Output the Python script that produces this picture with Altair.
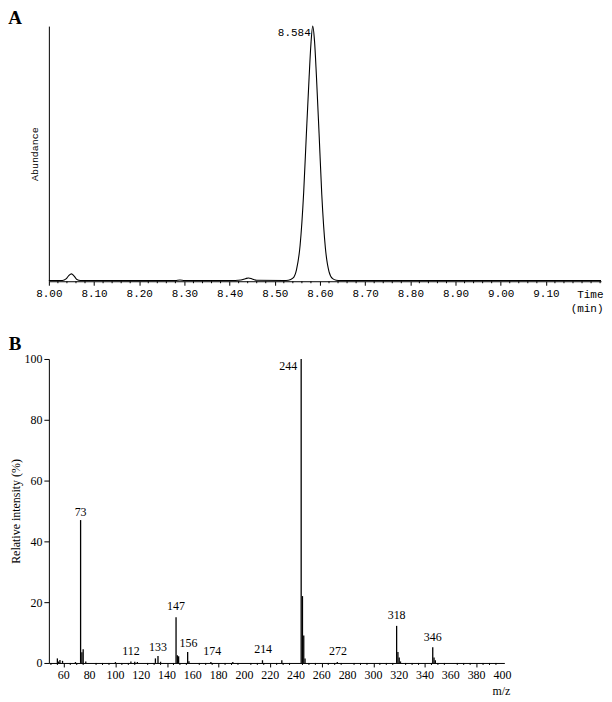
import altair as alt
import pandas as pd

# ---------- Panel A: chromatogram ----------
rt = [8.000, 8.030, 8.038, 8.044, 8.050, 8.056, 8.062, 8.070, 8.200, 8.280, 8.290, 8.300,
      8.400, 8.425, 8.435, 8.442, 8.450, 8.460, 8.520, 8.530, 8.540, 8.548, 8.556, 8.564,
      8.570, 8.576, 8.580, 8.584, 8.588, 8.592, 8.598, 8.604, 8.612, 8.620, 8.628, 8.636,
      8.645, 8.700, 9.222]
abundance = [0.3, 0.3, 0.9, 2.2, 2.9, 2.0, 0.7, 0.3, 0.25, 0.3, 0.5, 0.3,
             0.3, 0.5, 1.0, 1.3, 0.9, 0.4, 0.3, 0.4, 1.2, 4.5, 14.0, 35.0,
             58.0, 80.0, 93.0, 100.0, 94.0, 81.0, 58.0, 34.0, 13.0, 3.8, 1.0, 0.4,
             0.3, 0.3, 0.3]
peak_label = ["8.584"]
peak_rt = [8.584]
peak_ab = [100.0]
major_ticks_A = [8.0, 8.1, 8.2, 8.3, 8.4, 8.5, 8.6, 8.7, 8.8, 8.9, 9.0, 9.1]
minor_ticks_A = [8.02, 8.04, 8.06, 8.08, 8.12, 8.14, 8.16, 8.18, 8.22, 8.24, 8.26, 8.28,
                 8.32, 8.34, 8.36, 8.38, 8.42, 8.44, 8.46, 8.48, 8.52, 8.54, 8.56, 8.58,
                 8.62, 8.64, 8.66, 8.68, 8.72, 8.74, 8.76, 8.78, 8.82, 8.84, 8.86, 8.88,
                 8.92, 8.94, 8.96, 8.98, 9.02, 9.04, 9.06, 9.08, 9.12, 9.14, 9.16, 9.18, 9.20, 9.22]

# ---------- Panel B: mass spectrum ----------
mz = [55, 56, 57, 59, 69, 73, 74, 75, 77, 100, 112, 115, 117, 131, 133, 135,
      147, 148, 149, 156, 157, 174, 191, 214, 229, 244, 245, 246, 247, 272,
      318, 319, 320, 321, 346, 347, 348]
intensity = [1.5, 0.5, 1.0, 0.7, 0.3, 47.0, 3.5, 4.5, 0.5, 0.3, 0.5, 0.4, 0.3, 1.5, 2.3, 0.4,
             15.0, 2.5, 2.2, 3.6, 0.6, 0.3, 0.3, 0.9, 0.9, 100.0, 22.0, 9.0, 1.5, 0.3,
             12.2, 3.6, 1.8, 0.5, 5.2, 1.8, 0.9]
lab_text = ["73", "112", "133", "147", "156", "174", "214", "272", "318", "346"]
lab_mz = [73, 112, 133, 147, 156.6, 175, 214.5, 272.5, 318, 346]
lab_y = [49.8, 3.9, 5.2, 18.7, 6.6, 3.9, 4.6, 3.9, 15.7, 8.5]
base_label = ["244"]
base_mz = [244]
base_y = [97.7]
major_ticks_B = [60, 80, 100, 120, 140, 160, 180, 200, 220, 240, 260, 280, 300, 320, 340, 360, 380, 400]
minor_ticks_B = [50, 55, 65, 70, 75, 85, 90, 95, 105, 110, 115, 125, 130, 135, 145, 150, 155,
                 165, 170, 175, 185, 190, 195, 205, 210, 215, 225, 230, 235, 245, 250, 255,
                 265, 270, 275, 285, 290, 295, 305, 310, 315, 325, 330, 335, 345, 350, 355,
                 365, 370, 375, 385, 390, 395]

WA, HA = 554, 256
WB, HB = 457, 305
MONO = "Liberation Mono"
SERIF = "Liberation Serif"

dfA = pd.DataFrame({"t": rt, "a": abundance})
dfA_lab = pd.DataFrame({"txt": peak_label, "t": peak_rt, "a": peak_ab})
dfA_minor = pd.DataFrame({"t": minor_ticks_A})

xA = alt.X("t:Q", scale=alt.Scale(domain=[8.0, 9.222], nice=False, zero=False),
           axis=alt.Axis(values=major_ticks_A, format=".2f", title=["Time", "(min)"],
                         titleX=WA + 2, titleY=7,
                         titleAlign="right", titleBaseline="top", titleLineHeight=14,
                         titleFont=MONO, titleFontSize=11, titleFontWeight="normal",
                         labelFont=MONO, labelFontSize=11, labelFlush=False, labelOverlap=False,
                         labelPadding=2, tickSize=4, grid=False))
yA = alt.Y("a:Q", scale=alt.Scale(domain=[0, 100], nice=False),
           axis=alt.Axis(title="Abundance", labels=False, ticks=False, grid=False,
                         titleFont=MONO, titleFontSize=10, titleFontWeight="normal",
                         titlePadding=9))

lineA = alt.Chart(dfA).mark_line(color="black", strokeWidth=1.1, interpolate="monotone").encode(x=xA, y=yA)
minorA = alt.Chart(dfA_minor).mark_rule(color="black", strokeWidth=1).encode(
    x=alt.X("t:Q"), y=alt.value(HA), y2=alt.value(HA + 2))
textA = alt.Chart(dfA_lab).mark_text(align="right", baseline="middle", dx=-2, dy=7,
                                     font=MONO, fontSize=11, color="black").encode(
    x=alt.X("t:Q"), y=alt.Y("a:Q"), text="txt:N")
letterA = alt.Chart(pd.DataFrame({"l": ["A"]})).mark_text(
    font=SERIF, fontSize=19, fontWeight="bold", color="black", align="center", baseline="middle"
).encode(x=alt.value(-34), y=alt.value(-8), text="l:N")

chartA = alt.layer(lineA, minorA, textA, letterA).properties(width=WA, height=HA)

# ---------- B ----------
dfB = pd.DataFrame({"mz": mz, "i": intensity})
dfB_lab = pd.DataFrame({"txt": lab_text, "mz": lab_mz, "i": lab_y})
dfB_base = pd.DataFrame({"txt": base_label, "mz": base_mz, "i": base_y})
dfB_minor = pd.DataFrame({"mz": minor_ticks_B})
dfB_ticklab = pd.DataFrame({"mz": major_ticks_B, "txt": [str(v) for v in major_ticks_B]})

xB = alt.X("mz:Q", scale=alt.Scale(domain=[48.4, 401.5], nice=False, zero=False),
           axis=alt.Axis(values=major_ticks_B, title=None, labels=False,
                         tickSize=4, grid=False))
yB = alt.Y("i:Q", scale=alt.Scale(domain=[0, 100], nice=False),
           axis=alt.Axis(values=[0, 20, 40, 60, 80, 100], title="Relative intensity (%)",
                         titleFont=SERIF, titleFontSize=12, titleFontWeight="normal",
                         titlePadding=1, labelFont=SERIF, labelFontSize=12, tickSize=5,
                         labelPadding=2, grid=False))

barsB = alt.Chart(dfB).mark_rule(color="black", strokeWidth=1.3).encode(
    x=xB, y=yB, y2=alt.datum(0))
minorB = alt.Chart(dfB_minor).mark_rule(color="black", strokeWidth=1).encode(
    x=alt.X("mz:Q"), y=alt.value(HB), y2=alt.value(HB + 2))
tickLabB = alt.Chart(dfB_ticklab).mark_text(
    font=SERIF, fontSize=12, color="black", baseline="middle", align="center").encode(
    x=alt.X("mz:Q"), y=alt.value(HB + 12), text="txt:N")
labB = alt.Chart(dfB_lab).mark_text(
    font=SERIF, fontSize=12, color="black", baseline="middle").encode(
    x=alt.X("mz:Q"), y=alt.Y("i:Q"), text="txt:N")
baseB = alt.Chart(dfB_base).mark_text(
    font=SERIF, fontSize=12, color="black", baseline="middle", align="right", dx=-4).encode(
    x=alt.X("mz:Q"), y=alt.Y("i:Q"), text="txt:N")
mzlab = alt.Chart(pd.DataFrame({"l": ["m/z"]})).mark_text(
    font=SERIF, fontSize=12, color="black", align="center", baseline="middle"
).encode(x=alt.value(454), y=alt.value(HB + 28), text="l:N")
letterB = alt.Chart(pd.DataFrame({"l": ["B"]})).mark_text(
    font=SERIF, fontSize=19, fontWeight="bold", color="black", align="center", baseline="middle"
).encode(x=alt.value(-34), y=alt.value(-15), text="l:N")

chartB = alt.layer(barsB, minorB, tickLabB, labB, baseB, mzlab, letterB).properties(width=WB, height=HB)

chart = alt.vconcat(chartA, chartB, spacing=78, bounds="flush").properties(
    padding={"left": 0, "top": 0, "right": 0, "bottom": 0}
).configure_view(stroke=None).configure_axis(
    domainColor="black", tickColor="black", labelColor="black", titleColor="black",
    domainWidth=1)

chart.save("out.html", embed_options={"renderer": "svg", "actions": False})
